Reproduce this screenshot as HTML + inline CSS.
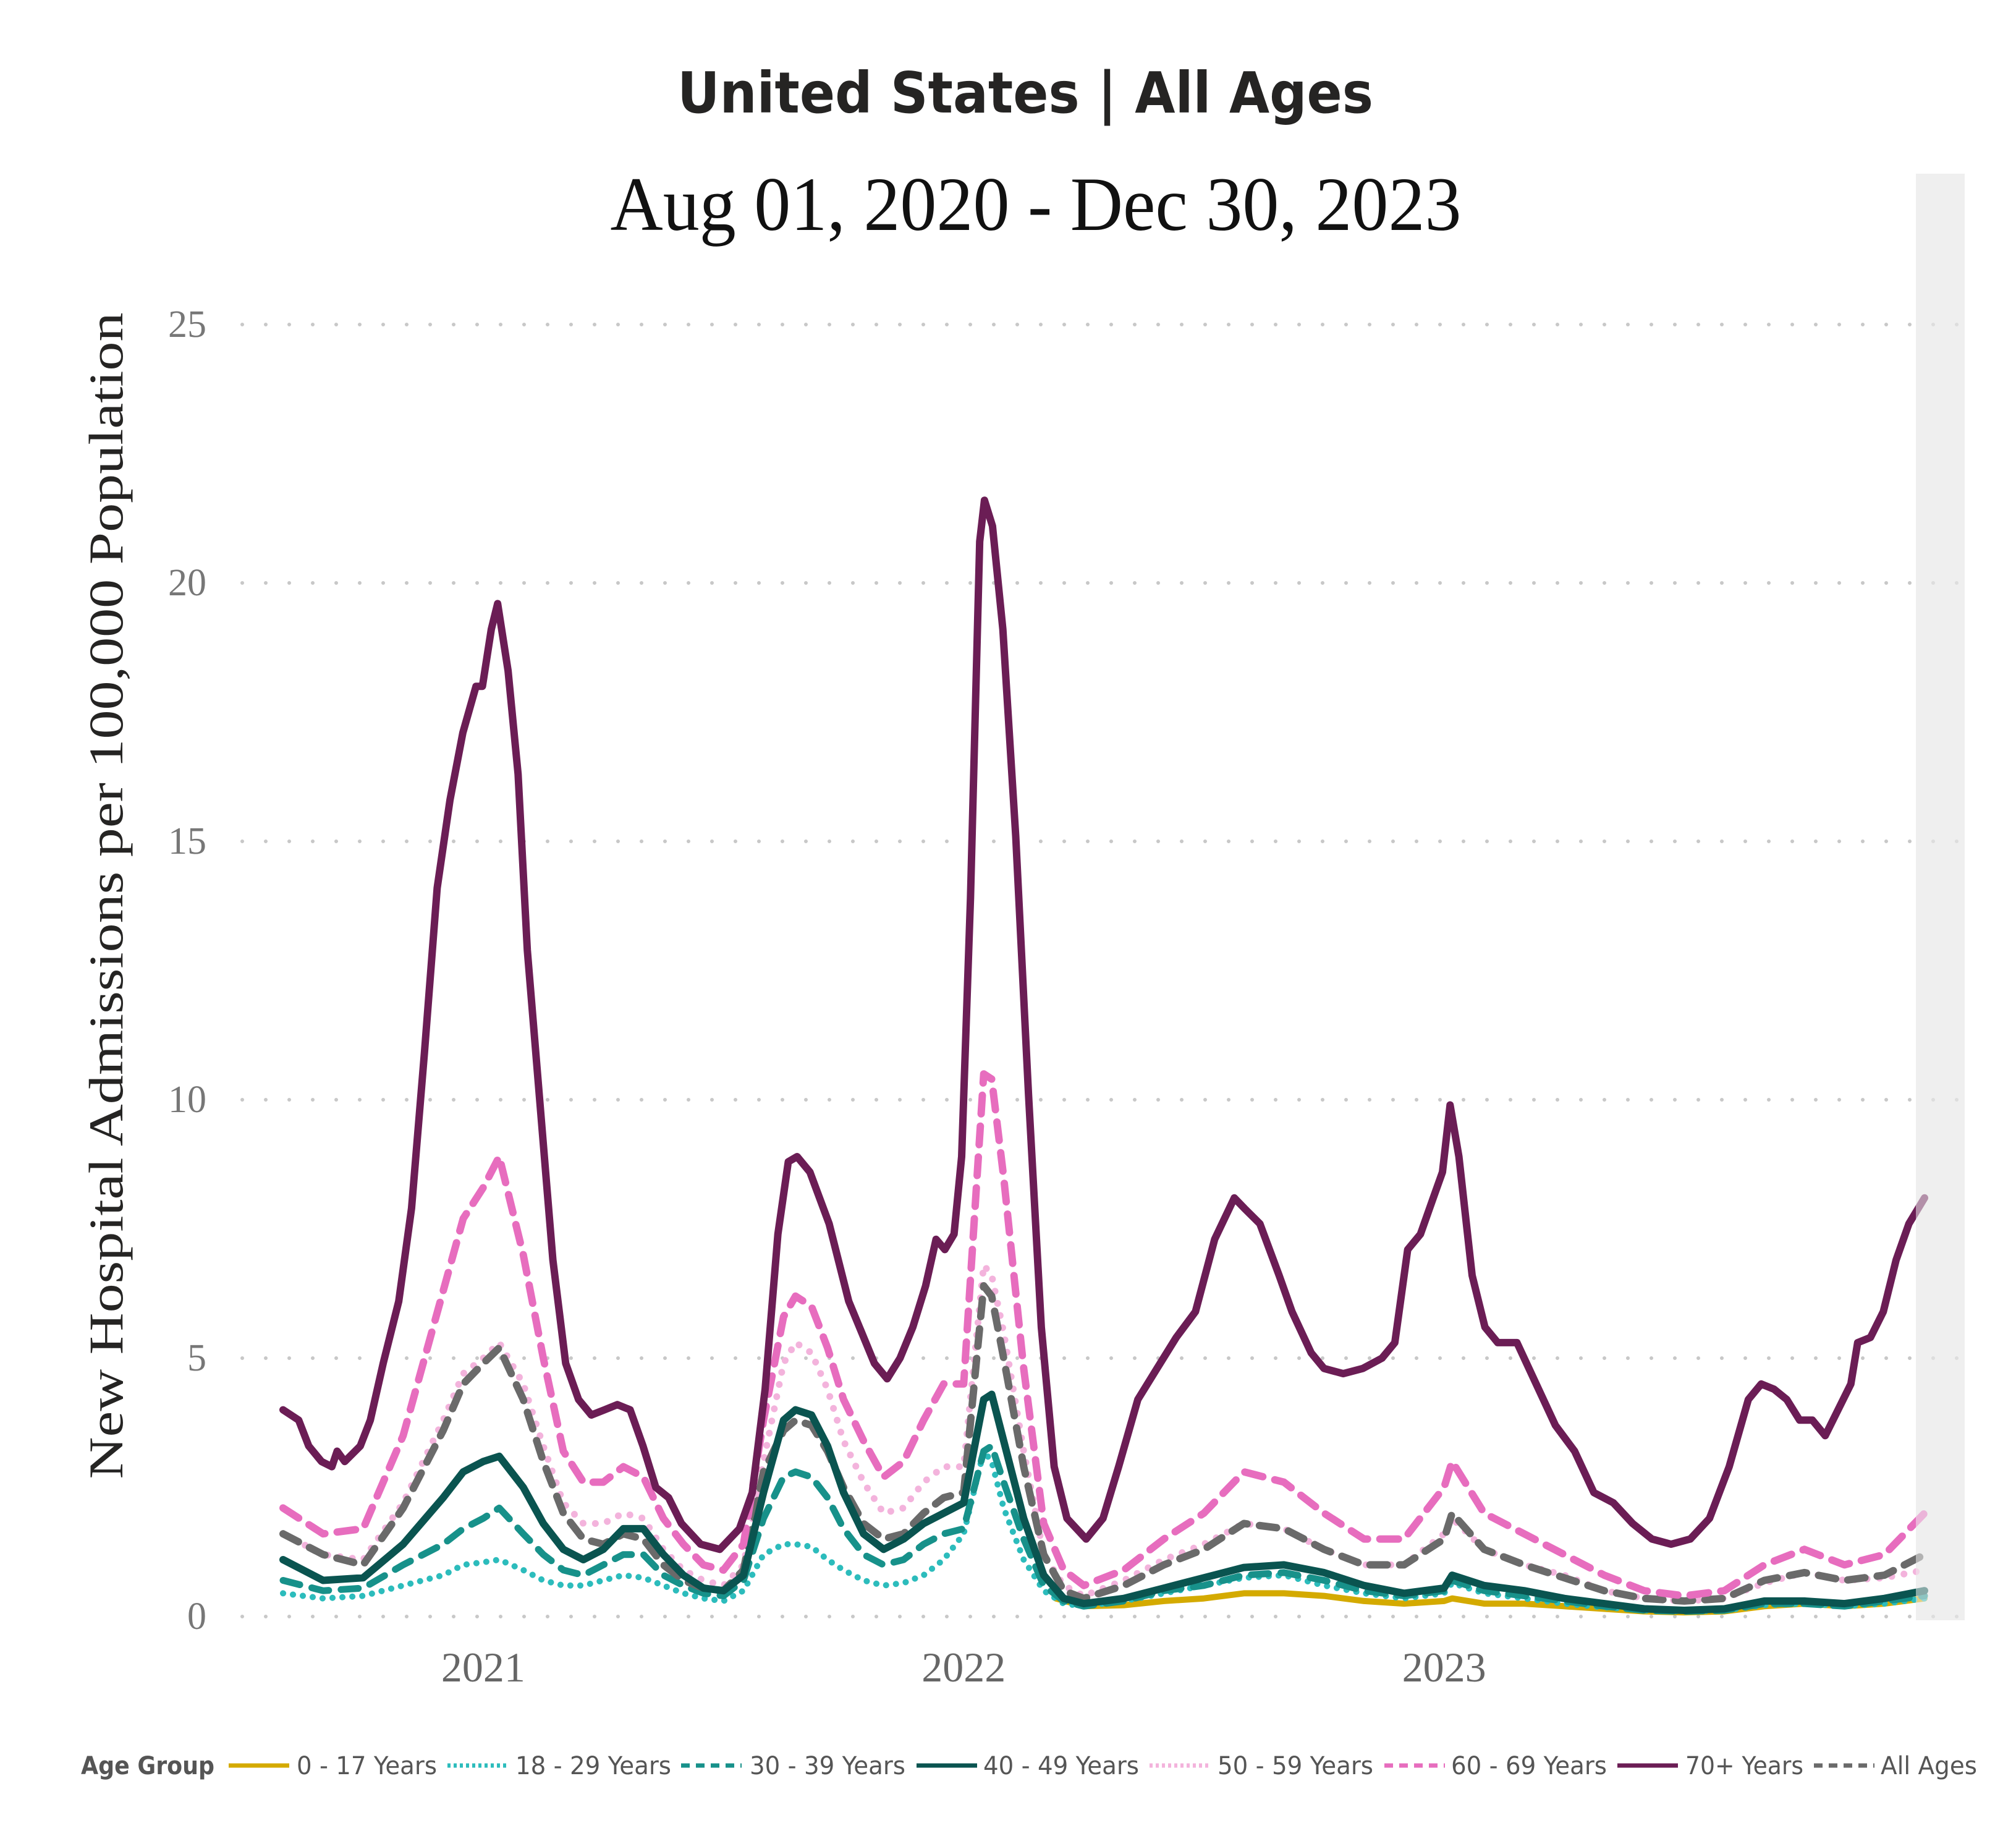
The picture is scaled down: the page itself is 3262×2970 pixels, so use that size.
<!DOCTYPE html>
<html><head><meta charset="utf-8">
<style>
html,body{margin:0;padding:0;background:#fff;}
svg{display:block;}
</style></head>
<body>
<svg id="chart" width="3262" height="2970" viewBox="0 0 3262 2970" xmlns="http://www.w3.org/2000/svg">
  <rect width="3262" height="2970" fill="#fff"/>
  <text x="1659" y="182" text-anchor="middle" font-family="'DejaVu Sans','Liberation Sans',sans-serif" font-size="92" font-weight="bold" fill="#252423" textLength="1126" lengthAdjust="spacingAndGlyphs">United States | All Ages</text>
  <text x="1676" y="372" text-anchor="middle" font-family="'Liberation Serif',serif" font-size="124" fill="#111" textLength="1377" lengthAdjust="spacingAndGlyphs">Aug 01, 2020 - Dec 30, 2023</text>
  <text transform="translate(198,1449) rotate(-90)" text-anchor="middle" font-family="'Liberation Serif',serif" font-size="78" fill="#252423" textLength="1887" lengthAdjust="spacingAndGlyphs">New Hospital Admissions per 100,000 Population</text>
  <rect x="3100" y="281" width="79" height="2340" fill="#efefef"/>
  <g id="grid"></g>
  <g id="yticks"></g>
  <g id="xticks"></g>
  <g id="series"></g>
  <rect x="3100" y="281" width="79" height="2340" fill="#efefef" opacity="0.55"/>
  <g id="legend"></g>
</svg>
<script>
const NS="http://www.w3.org/2000/svg";
const yTicks=[0,5,10,15,20,25];
const yearLabels=["2021","2022","2023"];
const yearMonths=[5,17,29];
// months since Aug 1 2020
const m70=[0,0.39,0.64,0.96,1.22,1.35,1.54,1.93,2.18,2.5,2.89,3.21,3.53,3.85,4.17,4.49,4.82,4.98,5.2,5.36,5.62,5.87,6.1,6.42,6.74,7.06,7.38,7.7,8.03,8.35,8.67,8.99,9.31,9.63,9.95,10.43,10.91,11.4,11.72,12.04,12.36,12.62,12.84,13.16,13.64,14.13,14.45,14.77,15.09,15.41,15.73,16.05,16.31,16.53,16.76,16.95,17.17,17.4,17.52,17.72,17.98,18.3,18.62,18.94,19.26,19.58,20.06,20.48,20.87,21.35,21.83,22.31,22.79,23.27,23.76,24.01,24.4,24.88,25.2,25.68,26.0,26.48,26.97,27.45,27.77,28.09,28.41,28.73,28.96,29.15,29.37,29.7,30.02,30.34,30.82,31.3,31.78,32.26,32.74,33.23,33.71,34.19,34.67,35.15,35.63,36.12,36.6,36.92,37.24,37.56,37.88,38.2,38.52,38.84,39.16,39.33,39.65,39.97,40.29,40.61,41.0];
const v70=[4.0,3.8,3.3,3.0,2.9,3.2,3.0,3.3,3.8,4.9,6.1,7.9,10.9,14.1,15.8,17.1,18.0,18.0,19.1,19.6,18.3,16.3,12.9,9.9,6.9,4.9,4.2,3.9,4.0,4.1,4.0,3.3,2.5,2.3,1.8,1.4,1.3,1.7,2.4,4.4,7.4,8.8,8.9,8.6,7.6,6.1,5.5,4.9,4.6,5.0,5.6,6.4,7.3,7.1,7.4,8.9,13.9,20.8,21.6,21.1,19.1,15.1,10.1,5.6,2.9,1.9,1.5,1.9,2.9,4.2,4.8,5.4,5.9,7.3,8.1,7.9,7.6,6.6,5.9,5.1,4.8,4.7,4.8,5.0,5.3,7.1,7.4,8.1,8.6,9.9,8.9,6.6,5.6,5.3,5.3,4.5,3.7,3.2,2.4,2.2,1.8,1.5,1.4,1.5,1.9,2.9,4.2,4.5,4.4,4.2,3.8,3.8,3.5,4.0,4.5,5.3,5.4,5.9,6.9,7.6,8.1];
const mCommon=[0,1,2,3,4,4.5,5,5.4,6,6.5,7,7.5,8,8.5,9,9.5,10,10.5,11,11.5,12,12.5,12.8,13.2,13.6,14,14.5,15,15.5,16,16.5,17,17.5,17.7,18,18.5,19,19.5,20,21,22,23,24,25,26,27,28,29,29.2,30,31,32,33,34,35,36,37,38,39,40,41];
const v60=[2.1,1.6,1.7,3.5,6.3,7.7,8.3,8.9,7.0,5.0,3.2,2.6,2.6,2.9,2.7,1.9,1.4,1.0,0.9,1.4,3.8,5.8,6.2,6.0,5.2,4.2,3.4,2.7,3.0,3.8,4.5,4.5,10.5,10.4,8.5,4.8,1.8,0.9,0.6,0.9,1.5,2.0,2.8,2.6,2.0,1.5,1.5,2.5,3.0,2.0,1.6,1.2,0.8,0.5,0.4,0.5,1.0,1.3,1.0,1.2,2.0];
const v50=[1.6,1.2,1.1,2.2,3.8,4.7,5.0,5.3,4.5,3.3,2.2,1.8,1.8,2.0,1.9,1.3,0.9,0.7,0.6,1.0,3.0,4.9,5.3,5.1,4.4,3.4,2.6,2.0,2.1,2.6,2.9,2.9,6.8,6.6,5.5,3.2,1.2,0.6,0.4,0.7,1.1,1.4,1.8,1.7,1.3,1.0,1.0,1.6,1.9,1.3,1.0,0.8,0.5,0.35,0.3,0.35,0.65,0.85,0.7,0.75,0.9];
const vAll=[1.6,1.2,1.0,2.1,3.6,4.5,4.9,5.2,4.2,3.0,2.0,1.5,1.4,1.6,1.5,1.0,0.7,0.55,0.5,0.9,2.8,3.6,3.8,3.7,3.2,2.5,1.8,1.5,1.6,2.0,2.3,2.4,6.4,6.2,5.0,2.9,1.2,0.5,0.35,0.6,1.0,1.3,1.8,1.7,1.3,1.0,1.0,1.5,2.0,1.3,1.0,0.75,0.5,0.35,0.3,0.35,0.7,0.85,0.7,0.8,1.2];
const v40=[1.1,0.7,0.75,1.4,2.3,2.8,3.0,3.1,2.5,1.8,1.3,1.1,1.3,1.7,1.7,1.2,0.8,0.55,0.5,0.8,2.4,3.8,4.0,3.9,3.3,2.4,1.6,1.3,1.5,1.8,2.0,2.2,4.2,4.3,3.4,1.9,0.8,0.35,0.25,0.35,0.55,0.75,0.95,1.0,0.85,0.6,0.45,0.55,0.8,0.6,0.5,0.35,0.25,0.15,0.12,0.15,0.3,0.3,0.25,0.35,0.5];
const v30=[0.7,0.5,0.55,1.0,1.4,1.7,1.9,2.1,1.6,1.2,0.9,0.8,1.0,1.2,1.2,0.8,0.6,0.45,0.4,0.7,1.9,2.7,2.8,2.7,2.3,1.7,1.2,1.0,1.1,1.4,1.6,1.7,3.2,3.3,2.6,1.5,0.6,0.3,0.2,0.3,0.5,0.6,0.8,0.85,0.7,0.5,0.4,0.5,0.7,0.5,0.4,0.3,0.2,0.12,0.1,0.12,0.25,0.25,0.2,0.3,0.4];
const v18=[0.45,0.35,0.4,0.6,0.8,1.0,1.05,1.1,0.9,0.7,0.6,0.6,0.7,0.8,0.75,0.6,0.45,0.35,0.3,0.5,1.2,1.4,1.4,1.35,1.1,0.9,0.7,0.6,0.65,0.8,1.1,1.6,3.2,3.0,2.1,1.1,0.5,0.25,0.2,0.3,0.45,0.6,0.75,0.8,0.6,0.45,0.35,0.45,0.65,0.45,0.35,0.25,0.18,0.12,0.1,0.12,0.22,0.25,0.2,0.25,0.35];
const m0=[19.3,20,21,22,23,24,25,26,27,28,29,29.2,30,31,32,33,34,35,36,37,38,39,40,41];
const v0=[0.35,0.2,0.22,0.3,0.35,0.45,0.45,0.4,0.3,0.25,0.3,0.35,0.25,0.25,0.2,0.15,0.1,0.08,0.1,0.2,0.25,0.2,0.25,0.35];
const legendLabels=["0 - 17 Years","18 - 29 Years","30 - 39 Years","40 - 49 Years","50 - 59 Years","60 - 69 Years","70+ Years","All Ages"];

const xS=m=>458+m*64.78;
const yS=v=>2615-v*83.6;
function mk(tag,attrs,parent){const e=document.createElementNS(NS,tag);for(const k in attrs)e.setAttribute(k,attrs[k]);parent.appendChild(e);return e;}

const grid=document.getElementById('grid'),yt=document.getElementById('yticks'),xt=document.getElementById('xticks');
yTicks.forEach(t=>{
  const l=mk('line',{x1:392,x2:3180,y1:yS(t),y2:yS(t),stroke:'#c8c8c8','stroke-width':6,'stroke-dasharray':'0 38','stroke-linecap':'round'},grid);
  
  
  const tx=mk('text',{x:334,y:yS(t)+20,'text-anchor':'end','font-family':"'Liberation Serif',serif",'font-size':62,fill:'#777'},yt);
  tx.textContent=t;
  
  
});
yearLabels.forEach((y,i)=>{
  const tx=mk('text',{x:xS(yearMonths[i]),y:2720,'text-anchor':'middle','font-family':"'Liberation Serif',serif",'font-size':68,fill:'#666'},xt);
  tx.textContent=y;
  
  
});

const series=[
 {n:'series-0-17',m:m0,v:v0,c:'#d4aa00',w:10,d:''},
 {n:'series-18-29',m:mCommon,v:v18,c:'#2cbcbc',w:10,d:'0.1 16'},
 {n:'series-30-39',m:mCommon,v:v30,c:'#17918a',w:11,d:'28 20'},
 {n:'series-50-59',m:mCommon,v:v50,c:'#f3b3dc',w:11,d:'0.1 20'},
 {n:'series-all-ages',m:mCommon,v:vAll,c:'#6a6a6a',w:12,d:'28 20'},
 {n:'series-40-49',m:mCommon,v:v40,c:'#0a5450',w:12,d:''},
 {n:'series-60-69',m:mCommon,v:v60,c:'#e76dbe',w:12,d:'30 20'},
 {n:'series-70-plus',m:m70,v:v70,c:'#6b1d55',w:12,d:''}
];
const sg=document.getElementById('series');
series.forEach(s=>{
  const pts=s.m.map((m,i)=>xS(m).toFixed(1)+','+yS(s.v[i]).toFixed(1)).join(' ');
  const p=mk('polyline',{points:pts,fill:'none',stroke:s.c,'stroke-width':s.w,'stroke-linejoin':'round','stroke-linecap':'round'},sg);
  if(s.d)p.setAttribute('stroke-dasharray',s.d);
  
  
});

// legend
const lg=document.getElementById('legend');
const title=mk('text',{x:131,y:2870,'font-family':"'DejaVu Sans','Liberation Sans',sans-serif",'font-size':40,'font-weight':'bold',fill:'#555',textLength:216,lengthAdjust:'spacingAndGlyphs'},lg);
title.textContent='Age Group';


const lineX=[370,724,1102,1483,1860,2240,2617,2935];
const textX=[480,834,1213,1591,1970,2348,2727,3043];
const textW=[227,252,252,252,252,252,191,156];
const legStyle=[series[0],series[1],series[2],series[5],series[3],series[6],series[7],series[4]];
legendLabels.forEach((lab,i)=>{
  const s=legStyle[i];
  const g=mk('g',{},lg);
  
  
  const l=mk('line',{x1:lineX[i],x2:lineX[i]+98,y1:2856,y2:2856,stroke:s.c,'stroke-width':7},g);
  if(s.d)l.setAttribute('stroke-dasharray',s.d.startsWith('0.1')?'5 5':'14 10');
  const t=mk('text',{x:textX[i],y:2870,'font-family':"'DejaVu Sans','Liberation Sans',sans-serif",'font-size':40,fill:'#555',textLength:textW[i],lengthAdjust:'spacingAndGlyphs'},g);
  t.textContent=lab;
});
</script>
</body></html>
